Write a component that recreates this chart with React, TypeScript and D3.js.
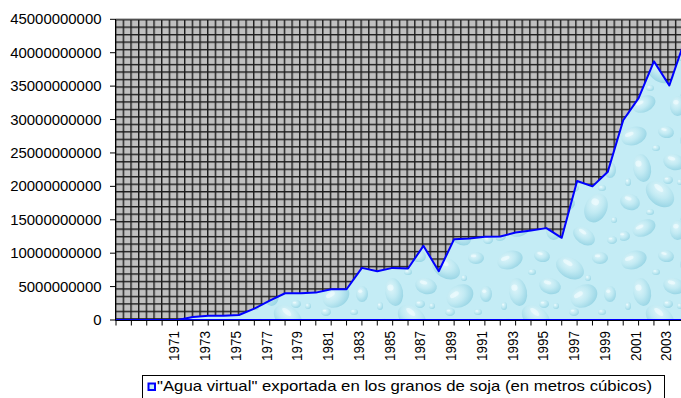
import React from "react";
import * as d3 from "d3";

// Years on the category axis
const years: number[] = [
  1967, 1968, 1969, 1970, 1971, 1972, 1973, 1974, 1975, 1976, 1977, 1978, 1979,
  1980, 1981, 1982, 1983, 1984, 1985, 1986, 1987, 1988, 1989, 1990, 1991, 1992,
  1993, 1994, 1995, 1996, 1997, 1998, 1999, 2000, 2001, 2002, 2003, 2004,
];

// Category labels (only every other year is shown, first years unlabeled)
const yearLabels: string[] = [
  "", "", "", "", "1971", "", "1973", "", "1975", "", "1977", "", "1979",
  "", "1981", "", "1983", "", "1985", "", "1987", "", "1989", "", "1991", "",
  "1993", "", "1995", "", "1997", "", "1999", "", "2001", "", "2003", "",
];

// Virtual water exported in soybeans, cubic metres
const waterM3: number[] = [
  0, 0, 0, 0, 0, 0.45e9, 0.65e9, 0.65e9, 0.75e9, 1.7e9, 2.9e9, 4.0e9, 4.0e9,
  4.1e9, 4.6e9, 4.6e9, 7.8e9, 7.3e9, 7.8e9, 7.7e9, 11.1e9, 7.3e9, 12.1e9,
  12.2e9, 12.45e9, 12.5e9, 13.1e9, 13.4e9, 13.75e9, 12.3e9, 20.8e9, 20.0e9,
  22.2e9, 29.9e9, 33.2e9, 38.7e9, 35.1e9, 41.8e9,
];

// Value axis ticks
const yTicks: number[] = [
  0, 5e9, 10e9, 15e9, 20e9, 25e9, 30e9, 35e9, 40e9, 45e9,
];

const legendText =
  "\"Agua virtual\" exportada en los granos de soja (en metros cúbicos)";

// Water-drop texture: [cx, cy, rx, ry, rotation]
const drops: number[][] = [
  [14, 12, 13, 9, -20], [46, 8, 8, 6, 10], [74, 20, 15, 10, 30],
  [104, 10, 8, 6, 0], [22, 44, 9, 14, -10], [54, 38, 11, 8, 15],
  [88, 48, 14, 11, -30], [10, 78, 10, 8, 20], [40, 70, 16, 11, 40],
  [70, 80, 9, 7, -15], [100, 84, 11, 15, 25], [24, 104, 12, 8, -25],
  [58, 106, 8, 10, 5], [88, 112, 12, 8, 35], [114, 46, 6, 8, 0],
  [4, 112, 6, 5, 0], [116, 116, 5, 4, 0], [48, 56, 5, 4, 0],
  [78, 64, 5, 4, 0], [30, 88, 4, 3, 0], [106, 64, 4, 3, 0],
  [64, 94, 4, 3, 0], [8, 58, 3, 4, 0], [92, 30, 3, 3, 0],
  [36, 24, 4, 3, 0], [60, 58, 3, 3, 0], [118, 96, 3, 3, 0],
];

export default function App() {
  const width = 681;
  const height = 398;
  const left = 115.5;
  const top = 19;
  const bottom = 320;
  const plotRight = 700;
  const step = 15.37;

  const x = d3
    .scaleLinear()
    .domain([years[0], years[years.length - 1]])
    .range([116, 116 + step * (years.length - 1)]);
  const y = d3.scaleLinear().domain([0, 45e9]).range([bottom, top + 0.3]);

  const pts = years.map((yr, i) => ({ yr, v: waterM3[i] }));
  const area = d3
    .area<{ yr: number; v: number }>()
    .x((d) => x(d.yr))
    .y0(y(0))
    .y1((d) => y(d.v));

  const font = "Liberation Sans, Arial, Helvetica, sans-serif";

  return (
    <svg
      width={width}
      height={height}
      style={{
        position: "absolute",
        left: 0,
        top: 0,
        background: "#fff",
        fontFamily: font,
      }}
    >
      <defs>
        <pattern
          id="grid"
          patternUnits="userSpaceOnUse"
          x={left - 0.5}
          y={top}
          width={7.67}
          height={7.48}
        >
          <rect width={7.67} height={7.48} fill="#c0c0c0" />
          <rect x={0} y={0} width={1.4} height={7.48} fill="#1c1c1c" />
          <rect x={0} y={0} width={7.67} height={1.4} fill="#1c1c1c" />
        </pattern>
        <radialGradient id="drop" cx="0.38" cy="0.35" r="0.7">
          <stop offset="0" stopColor="#e4f7fb" />
          <stop offset="0.5" stopColor="#c0e9f2" />
          <stop offset="0.85" stopColor="#9dd7e6" />
          <stop offset="1" stopColor="#8ccfe0" />
        </radialGradient>
        <pattern
          id="water"
          patternUnits="userSpaceOnUse"
          width={124}
          height={124}
        >
          <rect width={124} height={124} fill="#c4ecf5" />
          {drops.map((d, i) => (
            <g key={i} transform={`translate(${d[0]},${d[1]}) rotate(${d[4]})`}>
              <ellipse rx={d[2]} ry={d[3]} fill="url(#drop)" opacity={0.8} />
              <ellipse
                cx={-d[2] * 0.3}
                cy={-d[3] * 0.35}
                rx={d[2] * 0.35}
                ry={d[3] * 0.22}
                fill="#f4fdff"
                opacity={0.6}
              />
            </g>
          ))}
        </pattern>
      </defs>

      {/* plot area */}
      <rect
        x={left}
        y={top}
        width={plotRight - left}
        height={bottom - top}
        fill="url(#grid)"
      />
      <line x1={left} x2={plotRight} y1={top} y2={top} stroke="#808080" strokeWidth={1.2} />

      {/* area series */}
      <path
        d={area(pts) ?? ""}
        fill="url(#water)"
        stroke="#0000ff"
        strokeWidth={2}
        strokeLinejoin="round"
      />

      {/* value axis */}
      <line x1={left} x2={left} y1={top} y2={bottom} stroke="#000" />
      {yTicks.map((t) => {
        const label = String(t);
        return (
          <g key={t}>
            <line x1={110} x2={left} y1={y(t)} y2={y(t)} stroke="#000" />
            <text
              x={101.5}
              y={y(t)}
              textAnchor="end"
              dominantBaseline="central"
              fontSize={14.5}
              fill="#000"
              textLength={label.length * 8.3}
              lengthAdjust="spacingAndGlyphs"
            >
              {label}
            </text>
          </g>
        );
      })}

      {/* category axis */}
      <line x1={left} x2={plotRight} y1={bottom + 0.5} y2={bottom + 0.5} stroke="#000" />
      {years.map((yr, i) => (
        <g key={yr}>
          <line
            x1={x(yr)}
            x2={x(yr)}
            y1={bottom}
            y2={bottom + 5.5}
            stroke="#000"
          />
          {yearLabels[i] && (
            <text
              transform={`translate(${x(yr) - 3},331) rotate(-90)`}
              textAnchor="end"
              dominantBaseline="central"
              fontSize={14}
              fill="#000"
              textLength={30}
              lengthAdjust="spacingAndGlyphs"
            >
              {yearLabels[i]}
            </text>
          )}
        </g>
      ))}

      {/* legend */}
      <rect
        x={142.5}
        y={375.5}
        width={522}
        height={30}
        fill="#fff"
        stroke="#000"
        strokeWidth={1}
      />
      <rect
        x={148.5}
        y={383.5}
        width={6.5}
        height={6.5}
        fill="#c4ecf5"
        stroke="#0000ff"
        strokeWidth={2}
      />
      <text
        x={157}
        y={391}
        fontSize={15}
        fill="#000"
        textLength={495}
        lengthAdjust="spacingAndGlyphs"
      >
        {legendText}
      </text>
    </svg>
  );
}
